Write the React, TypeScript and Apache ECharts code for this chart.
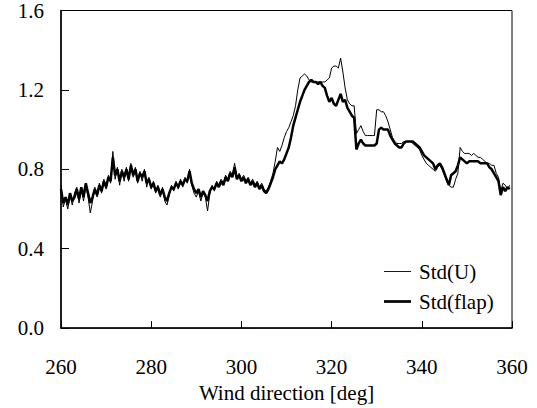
import React, { useEffect, useRef } from "react";
import * as echarts from "echarts";

// Sampling grid of wind direction (deg)
const DEG_START = 260;
const DEG_STEP = 0.5;

// Std(U) values, every 0.5 deg from 260 to 359.5
const stdU = [
  0.72, 0.61, 0.65, 0.60, 0.67, 0.62, 0.68, 0.71, 0.63, 0.70, 0.64, 0.72, 0.66, 0.58, 0.64, 0.71, 0.66, 0.73, 0.68, 0.75,
  0.70, 0.77, 0.73, 0.89, 0.75, 0.81, 0.72, 0.80, 0.74, 0.81, 0.74, 0.83, 0.76, 0.81, 0.73, 0.79, 0.74, 0.80, 0.71, 0.76,
  0.70, 0.74, 0.68, 0.72, 0.66, 0.71, 0.64, 0.62, 0.67, 0.72, 0.69, 0.74, 0.70, 0.75, 0.71, 0.76, 0.73, 0.80, 0.72, 0.68,
  0.66, 0.69, 0.64, 0.68, 0.66, 0.59, 0.68, 0.72, 0.69, 0.74, 0.72, 0.75, 0.73, 0.77, 0.75, 0.79, 0.77, 0.83, 0.76, 0.78,
  0.75, 0.77, 0.74, 0.76, 0.73, 0.75, 0.72, 0.74, 0.71, 0.73, 0.70, 0.69, 0.71, 0.74, 0.78, 0.84, 0.91, 0.89, 0.92, 0.96,
  0.99, 1.01, 1.04, 1.07, 1.12, 1.20, 1.26, 1.27, 1.28, 1.27, 1.25, 1.24, 1.24, 1.24, 1.24, 1.24, 1.24, 1.24, 1.25, 1.26,
  1.31, 1.32, 1.32, 1.31, 1.36, 1.29, 1.21, 1.15, 1.13, 1.12, 1.12, 0.98, 1.00, 1.02, 0.99, 0.97, 0.97, 0.97, 0.97, 0.97,
  1.10, 1.10, 1.09, 1.09, 1.07, 1.04, 1.00, 0.96, 0.94, 0.93, 0.93, 0.93, 0.94, 0.94, 0.94, 0.94, 0.93, 0.92, 0.91, 0.90,
  0.87, 0.85, 0.83, 0.82, 0.81, 0.80, 0.79, 0.81, 0.82, 0.80, 0.77, 0.74, 0.72, 0.71, 0.71, 0.75, 0.78, 0.91, 0.89, 0.88,
  0.88, 0.88, 0.87, 0.88, 0.87, 0.86, 0.86, 0.85, 0.84, 0.83, 0.83, 0.82, 0.82, 0.78, 0.76, 0.69, 0.73, 0.72, 0.70, 0.72,
];

// Std(flap) values, every 0.5 deg from 260 to 359.5
const stdFlap = [
  0.70, 0.63, 0.66, 0.62, 0.68, 0.64, 0.66, 0.70, 0.65, 0.71, 0.66, 0.73, 0.68, 0.63, 0.66, 0.70, 0.67, 0.72, 0.69, 0.74,
  0.71, 0.76, 0.74, 0.86, 0.77, 0.80, 0.74, 0.79, 0.76, 0.80, 0.75, 0.82, 0.77, 0.80, 0.74, 0.78, 0.76, 0.79, 0.73, 0.75,
  0.71, 0.73, 0.69, 0.71, 0.67, 0.70, 0.66, 0.64, 0.68, 0.71, 0.70, 0.73, 0.71, 0.74, 0.72, 0.75, 0.74, 0.79, 0.73, 0.70,
  0.68, 0.70, 0.66, 0.69, 0.67, 0.64, 0.69, 0.71, 0.70, 0.73, 0.71, 0.74, 0.72, 0.76, 0.74, 0.78, 0.76, 0.81, 0.75, 0.77,
  0.74, 0.76, 0.73, 0.75, 0.72, 0.74, 0.71, 0.73, 0.70, 0.72, 0.69, 0.68, 0.70, 0.73, 0.76, 0.80, 0.82, 0.84, 0.83, 0.85,
  0.88, 0.91, 0.96, 1.02, 1.06, 1.10, 1.14, 1.17, 1.20, 1.22, 1.24, 1.25, 1.24, 1.24, 1.23, 1.24, 1.22, 1.21, 1.17, 1.14,
  1.16, 1.13, 1.12, 1.15, 1.18, 1.14, 1.15, 1.11, 1.09, 1.07, 1.06, 0.90, 0.93, 0.95, 0.93, 0.92, 0.92, 0.92, 0.92, 0.92,
  0.93, 1.00, 1.01, 1.00, 1.00, 1.00, 0.97, 0.95, 0.93, 0.92, 0.91, 0.91, 0.93, 0.94, 0.94, 0.94, 0.94, 0.93, 0.92, 0.91,
  0.89, 0.87, 0.86, 0.85, 0.84, 0.83, 0.80, 0.82, 0.83, 0.81, 0.78, 0.75, 0.72, 0.77, 0.78, 0.79, 0.82, 0.86, 0.85, 0.84,
  0.83, 0.84, 0.84, 0.84, 0.84, 0.84, 0.83, 0.83, 0.83, 0.83, 0.81, 0.80, 0.78, 0.76, 0.74, 0.67, 0.71, 0.69, 0.71, 0.70,
];

const xTicks = [260, 280, 300, 320, 340, 360];
const yTicks = [0.0, 0.4, 0.8, 1.2, 1.6];
const seriesNames = ["Std(U)", "Std(flap)"];
const xAxisTitle = "Wind direction [deg]";

const FONT = "Liberation Serif";

export default function App() {
  const ref = useRef<HTMLDivElement>(null);
  useEffect(() => {
    if (!ref.current) return;
    const chart = echarts.init(ref.current, null, { renderer: "svg" });
    const toPairs = (arr: number[]) => arr.map((v, i) => [DEG_START + i * DEG_STEP, v]);
    chart.setOption({
      animation: false,
      backgroundColor: "#ffffff",
      textStyle: { fontFamily: FONT },
      grid: {
        left: 61,
        right: 25,
        top: 10,
        bottom: 78,
        show: true,
        borderColor: "#000",
        borderWidth: 1,
        backgroundColor: "transparent",
      },
      legend: {
        orient: "vertical",
        left: 379,
        top: 256,
        itemWidth: 27,
        itemHeight: 10,
        itemGap: 9,
        data: [
          { name: seriesNames[0], icon: "path://M0,0H30V1H0Z" },
          { name: seriesNames[1], icon: "path://M0,0H30V3H0Z" },
        ],
        itemStyle: { color: "#000", borderWidth: 0 },
        lineStyle: { width: 0 },
        textStyle: { fontFamily: FONT, fontSize: 21, color: "#000", padding: [0, 0, 0, 3] },
      },
      xAxis: {
        type: "value",
        min: xTicks[0],
        max: xTicks[xTicks.length - 1],
        interval: 20,
        name: xAxisTitle,
        nameLocation: "middle",
        nameGap: 52,
        nameTextStyle: { fontFamily: FONT, fontSize: 21, color: "#000" },
        axisLine: { show: true, lineStyle: { color: "#000", width: 1.5 } },
        axisTick: { show: true, inside: true, length: 7, lineStyle: { color: "#000", width: 1 } },
        axisLabel: { fontFamily: FONT, fontSize: 21, color: "#000", margin: 28 },
        splitLine: { show: false },
      },
      yAxis: {
        type: "value",
        min: yTicks[0],
        max: yTicks[yTicks.length - 1],
        interval: 0.4,
        axisLine: { show: true, lineStyle: { color: "#000", width: 1.5 } },
        axisTick: { show: true, inside: true, length: 8, lineStyle: { color: "#000", width: 1 } },
        axisLabel: {
          fontFamily: FONT,
          fontSize: 21,
          color: "#000",
          margin: 17,
          padding: [6, 0, 0, 0],
          formatter: (v: number) => v.toFixed(1),
        },
        splitLine: { show: false },
      },
      series: [
        {
          name: seriesNames[0],
          type: "line",
          data: toPairs(stdU),
          symbol: "none",
          lineStyle: { color: "#000", width: 1 },
          itemStyle: { color: "#000" },
        },
        {
          name: seriesNames[1],
          type: "line",
          data: toPairs(stdFlap),
          symbol: "none",
          lineStyle: { color: "#000", width: 2.5 },
          itemStyle: { color: "#000" },
        },
      ],
    });
    return () => chart.dispose();
  }, []);
  return (
    <div
      ref={ref}
      style={{ position: "fixed", left: 0, top: 0, width: 537, height: 408, background: "#fff" }}
    />
  );
}
